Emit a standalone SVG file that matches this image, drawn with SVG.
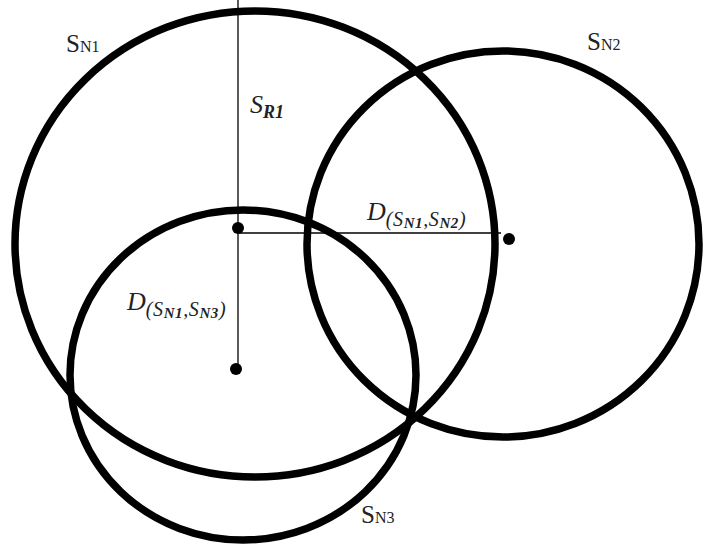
<svg xmlns="http://www.w3.org/2000/svg" width="703" height="545" viewBox="0 0 703 545">
<style>
.c{fill:none;stroke:#000;stroke-width:7.5}
.l{stroke:#000;stroke-width:1.3;fill:none}
.d{fill:#000}
.lab{font-family:"Liberation Serif",serif;fill:#222}
.m{font-family:"Liberation Serif",serif;font-style:italic;fill:#222}
.sub{font-size:20px;letter-spacing:0.6px}
.n{font-size:15px;font-weight:bold}
</style>
<rect width="703" height="545" fill="#fff"/>
<g id="connectors">
<line class="l" x1="238" y1="0" x2="238" y2="369"/>
<line class="l" x1="238" y1="233" x2="501" y2="233"/>
</g>
<g id="SN1">
<ellipse class="c" cx="255" cy="244" rx="240" ry="233"/>
<circle class="d" cx="238" cy="228" r="6"/>
<text class="lab" x="66" y="52" font-size="25">S<tspan font-size="16">N1</tspan></text>
</g>
<g id="SN2">
<ellipse class="c" cx="503" cy="244" rx="196" ry="193"/>
<circle class="d" cx="509" cy="239" r="6"/>
<text class="lab" x="587" y="50" font-size="25">S<tspan font-size="16">N2</tspan></text>
</g>
<g id="SN3">
<ellipse class="c" cx="243" cy="375" rx="173" ry="165"/>
<circle class="d" cx="236" cy="369" r="6"/>
<text class="lab" x="361" y="523" font-size="25">S<tspan font-size="16">N3</tspan></text>
</g>
<g id="labels">
<text class="m" x="250" y="113" font-size="26">S<tspan font-size="18" font-weight="bold" dy="5">R1</tspan></text>
<text class="m" x="367" y="220" font-size="26">D<tspan class="sub" dy="6">(S<tspan class="n" dy="2">N1</tspan><tspan dy="-2">,S</tspan><tspan class="n" dy="2">N2</tspan><tspan dy="-2">)</tspan></tspan></text>
<text class="m" x="127" y="310" font-size="26">D<tspan class="sub" dy="6">(S<tspan class="n" dy="2">N1</tspan><tspan dy="-2">,S</tspan><tspan class="n" dy="2">N3</tspan><tspan dy="-2">)</tspan></tspan></text>
</g>
</svg>
